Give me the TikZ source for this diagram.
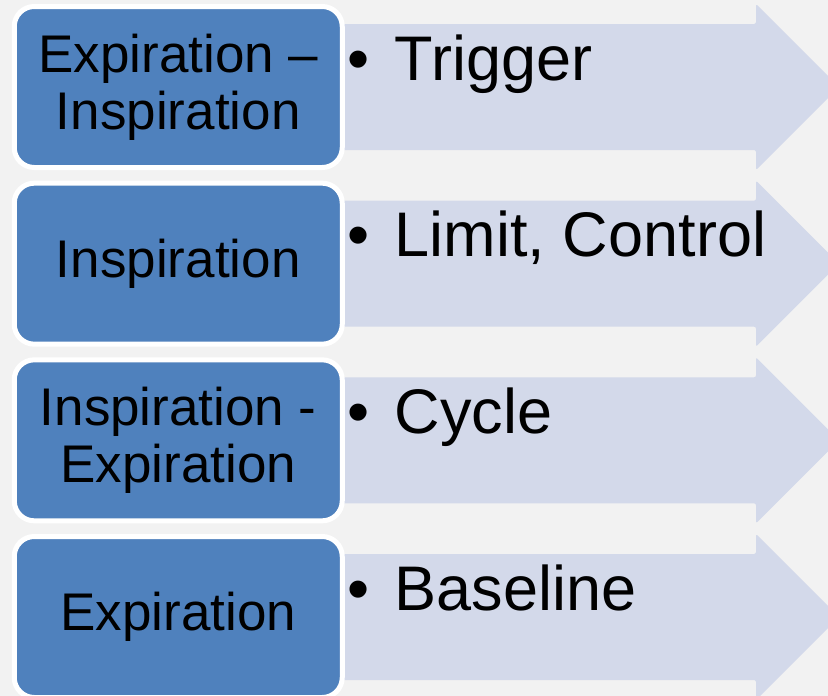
\documentclass[tikz,border=0pt]{standalone}
\usepackage{fontspec}
\setmainfont{Liberation Sans}
\definecolor{phaseblue}{HTML}{4F81BD}
\definecolor{bandfill}{HTML}{D3D9EA}
\definecolor{pagegray}{HTML}{F2F2F2}
\begin{document}
\begin{tikzpicture}[x=1pt,y=-1pt,inner sep=0pt,outer sep=0pt,
band/.style={fill=bandfill,rounded corners=2pt},
phase/.style={draw=white,line width=5pt,fill=phaseblue,rounded corners=20pt,
  minimum width=328pt,minimum height=161pt,align=center,font=\fontsize{53}{57}\selectfont},
cue/.style={anchor=base west,font=\fontsize{63}{70}\selectfont}]
\fill[pagegray] (0,0) rectangle (828,696);
\useasboundingbox (0,0) rectangle (828,696);
\clip (0,0) rectangle (828,696);
\foreach \i/\t/\ph/\cu in {1/0/{Expiration –\\Inspiration}/Trigger,
  2/176.67/Inspiration/{Limit, Control},
  3/353.33/{Inspiration -\\Expiration}/Cycle,
  4/530/Expiration/Baseline}{
  \fill[band] (330,\t+24) -- (756,\t+24) -- (756,\t+4) -- (839,\t+87)
    -- (756,\t+170) -- (756,\t+150) -- (330,\t+150) -- cycle;
  \node[phase] (ph\i) at (178.25,\t+87) {\ph};
  \node[cue] (cu\i) at (347,\t+80) {\makebox[48pt][l]{•}\cu};
}
\end{tikzpicture}
\end{document}
